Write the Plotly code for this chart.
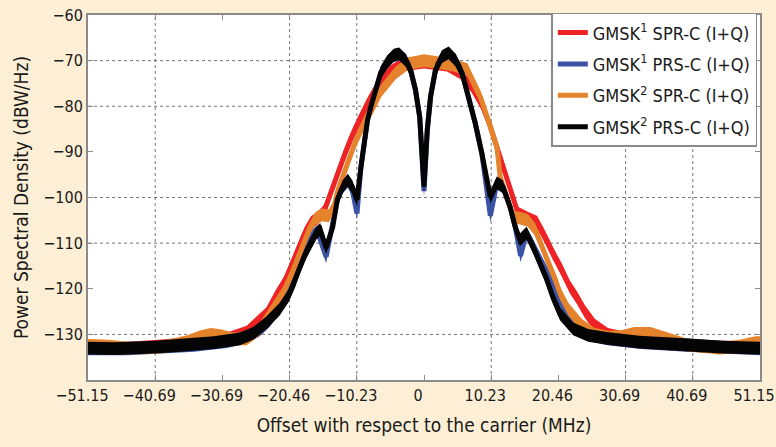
import plotly.graph_objects as go

# ---------------- data ----------------
tick_vals = [-51.15, -40.92, -30.69, -20.46, -10.23, 0, 10.23, 20.46, 30.69, 40.92, 51.15]
tick_text = ["\u221251.15", "\u221240.69", "\u221230.69", "\u221220.46", "\u221210.23", "0",
             "10.23", "20.46", "30.69", "40.69", "51.15"]
y_ticks = [-130, -120, -110, -100, -90, -80, -70, -60]

# GMSK1 SPR-C (I+Q)  (red)
red_x = [-51.15, -45, -40, -35, -30, -27, -25.5, -24, -22.5, -21.3, -20.2, -19.2, -18.2, -17.2,
         -16.2, -15.2, -14.2, -13.3, -12.6, -11.8, -10.8, -9.8, -8.6, -7.2, -5.5, -3.5, 0,
         3.5, 5.5, 7.2, 8.8, 10, 11, 11.8, 12.5, 13.3, 14.3, 15.8, 17.2, 18.4, 19.6, 21, 22.2,
         23.3, 24.5, 26, 28, 32, 40, 45, 51.15]
red_y = [-133, -133, -132.5, -132, -131, -129.5, -127.5, -125.5, -121.5, -118.7, -115, -111.5,
         -108, -105.5, -104.5, -103, -99, -95, -92.5, -89.5, -86, -83, -79.5, -76, -72.8,
         -71, -70.3,
         -71, -72.6, -75.5, -79.5, -84, -88.5, -92, -95, -99, -103.4, -104.5, -105.4, -108.6,
         -112.2, -115.9, -119.6, -122, -125, -128, -130, -131.2, -132.3, -132.8, -133]

# GMSK1 PRS-C (I+Q)  (blue)
blue_x = [-51.15, -45, -40, -35, -30, -27, -25, -23.5, -22, -20.8, -19.8, -18.9, -18.1, -17.2,
          -16.2, -14.9, -14.0, -13.2, -12.4, -11.6, -10.9, -10.2, -9.6, -9.2, -8.6, -8.1,
          -7.35, -6.6, -5.6, -4.6, -3.8, -2.8, -2.05, -1.3, -0.65, 0, 0.5, 1.0, 1.75, 2.75,
          3.75, 4.8, 5.8, 6.8, 7.8, 8.8, 10.1, 11.1, 12.0, 13.1, 13.9, 14.7, 15.6, 16.6, 17.7,
          18.9, 19.9, 21, 22.5, 25, 28, 33, 40, 45, 51.15]
blue_y = [-133.2, -133.2, -132.8, -132.4, -131.6, -130.6, -129, -127, -124, -120.5, -117,
          -113.5, -110.5, -108.5, -107.5, -113, -106.5, -100.5, -97.7, -96.4, -98.5, -103.5,
          -93.3, -89.6, -83, -80.2, -76.4, -72.7, -70.3, -68.9, -68.6, -69.9, -72, -76.4,
          -82.4, -98.6, -85.2, -77.9, -72, -69.1, -68.4, -69.9, -72.7, -77.9, -83.7, -90.3,
          -104, -96.8, -97.6, -102, -106.5, -112.8, -107.8, -110.5, -113.5, -117, -120.5,
          -124.5, -127.5, -130, -131, -131.8, -132.4, -132.8, -133.2]

# GMSK2 SPR-C (I+Q)  (orange)
orange_x = [-51.15, -48, -45, -40, -36, -34, -32.5, -31, -29, -27, -25, -23.5, -21.5, -20.5,
            -19.5, -18.5, -17.5, -16.5, -15.5, -14.5, -13.7, -13.1, -12.4, -11.5, -10.5, -9.2,
            -7.7, -6.5, -4.3, -2.5, 0, 2.5, 4.5, 6.6, 8.6, 10.1, 11.1, 11.6, 12.65, 13.6, 14.6,
            15.8, 16.9, 18, 18.9, 20, 20.7, 22, 24, 26, 28, 30, 32, 34.5, 37, 40, 45, 48, 50.5,
            51.15]
orange_y = [-132.4, -132.6, -133, -132.8, -131.6, -130.5, -130, -130.3, -131, -131,
            -128.8, -125.5, -121, -118, -114.4, -110.8, -107.1, -104.5, -103.8, -104, -102,
            -98.4, -95.5, -92, -88, -84, -80, -76.5, -72.7, -70.7, -70, -70.5, -71, -72, -78,
            -84.5, -88.9, -95.5, -100.5, -104.3, -104.5, -105, -107, -110.8, -114.4, -118,
            -121, -124.5, -128, -130, -130.6, -130.5, -129.8, -129.8, -131, -132.3, -133,
            -132.6, -131.8, -131.8]

# GMSK2 PRS-C (I+Q)  (black)
black_x = [-51.15, -47, -41, -37, -32, -28, -26, -24, -22, -20.6, -19.6, -18.8, -18.0, -17.2,
           -16.4, -15.8, -14.9, -13.9, -13.2, -12.4, -11.6, -10.9, -10.2, -9.6, -9.2, -8.6,
           -8.1, -7.35, -6.6, -5.6, -4.6, -3.8, -2.8, -2.05, -1.3, -0.65, 0, 0.5, 1.0, 1.75,
           2.75, 3.75, 4.8, 5.8, 6.8, 7.8, 8.8, 10.1, 11.1, 12.0, 13.1, 13.9, 14.6, 15.6, 16.6,
           17.65, 18.7, 19.6, 20.7, 22.7, 25, 27.8, 32.8, 40.4, 45.4, 51.15]
black_y = [-133, -133.1, -132.8, -132.4, -131.8, -131, -129.8, -127.5, -124.5, -121.5, -118.2,
           -115, -112.2, -110, -107.8, -107, -111, -106.5, -100.5, -97.7, -96.2, -97.7,
           -100.5, -93.3, -89.6, -83, -80.2, -76.4, -72.7, -70.3, -68.8, -68.5, -69.9, -72,
           -76.4, -82.4, -97.6, -85.2, -77.9, -72, -69.1, -68.3, -69.9, -72.7, -77.9, -83.7,
           -90.3, -99.9, -96.8, -97.6, -102, -106.5, -109.3, -107.8, -110.8, -114.4, -118,
           -121.8, -125.5, -128.8, -130.2, -130.9, -131.7, -132.3, -132.8, -133]

series = [
    ("GMSK<sup>1</sup> SPR-C (I+Q)", red_x, red_y, "#ee2326"),
    ("GMSK<sup>1</sup> PRS-C (I+Q)", blue_x, blue_y, "#3a53a4"),
    ("GMSK<sup>2</sup> SPR-C (I+Q)", orange_x, orange_y, "#e4832b"),
    ("GMSK<sup>2</sup> PRS-C (I+Q)", black_x, black_y, "#050505"),
]

# ---------------- style ----------------
NOISE = 1.4          # half-thickness of the noisy trace band, dB
FONT = "DejaVu Sans Condensed, Liberation Sans Narrow, DejaVu Sans, sans-serif"
BG = "#fdefd5"

fig = go.Figure()
for i, (name, xs, ys, col) in enumerate(series):
    up = [v + NOISE for v in ys]
    lo = [v - NOISE for v in ys]
    fig.add_trace(go.Scatter(x=list(xs) + list(xs)[::-1], y=up + lo[::-1], fill="toself",
                             fillcolor=col, line=dict(width=0, color=col), mode="lines",
                             hoverinfo="skip", showlegend=False, legendgroup=f"g{i}"))
    fig.add_trace(go.Scatter(x=xs, y=ys, mode="lines", name=name, legendgroup=f"g{i}",
                             line=dict(color=col, width=5)))

grid_x = [-40.92, -20.46, -10.23, 10.23, 30.69, 40.92]
grid_y = [-130, -110, -100, -80, -70]
for gx in grid_x:
    fig.add_shape(type="line", xref="x", yref="paper", x0=gx, x1=gx, y0=0, y1=1,
                  line=dict(color="rgba(70,70,70,0.75)", width=1, dash="dot"), layer="below")
for gy in grid_y:
    fig.add_shape(type="line", xref="paper", yref="y", x0=0, x1=1, y0=gy, y1=gy,
                  line=dict(color="rgba(70,70,70,0.75)", width=1, dash="dot"), layer="below")

fig.update_layout(
    width=776, height=447,
    margin=dict(l=88, r=16, t=15, b=67, autoexpand=False),
    paper_bgcolor=BG, plot_bgcolor="white",
    font=dict(family=FONT, size=16, color="#1a1a1a"),
    showlegend=True,
    legend=dict(x=0.996, y=1.006, xanchor="right", yanchor="top",
                bgcolor="white", bordercolor="#8a8a8a", borderwidth=1.5,
                tracegroupgap=5, font=dict(family=FONT, size=18, color="#1a1a1a")),
    xaxis=dict(range=[-51.15, 51.15], tickmode="array", tickvals=tick_vals, ticktext=tick_text,
               showgrid=False, zeroline=False, showline=True, linecolor="#8a8a8a", linewidth=2,
               mirror="ticks", ticks="inside", ticklen=5, tickcolor="#8a8a8a",
               ticklabeloverflow="allow", ticklabelshift=-6, automargin=False,
               title=dict(text="Offset with respect to the carrier (MHz)", standoff=14)),
    yaxis=dict(range=[-140, -60], tickmode="array", tickvals=y_ticks, automargin=False,
               showgrid=False, zeroline=False, showline=True, linecolor="#8a8a8a", linewidth=2,
               mirror="ticks", ticks="inside", ticklen=5, tickcolor="#8a8a8a",
               title=dict(text="Power Spectral Density (dBW/Hz)", standoff=10)),
)

fig.write_html("out.html")
